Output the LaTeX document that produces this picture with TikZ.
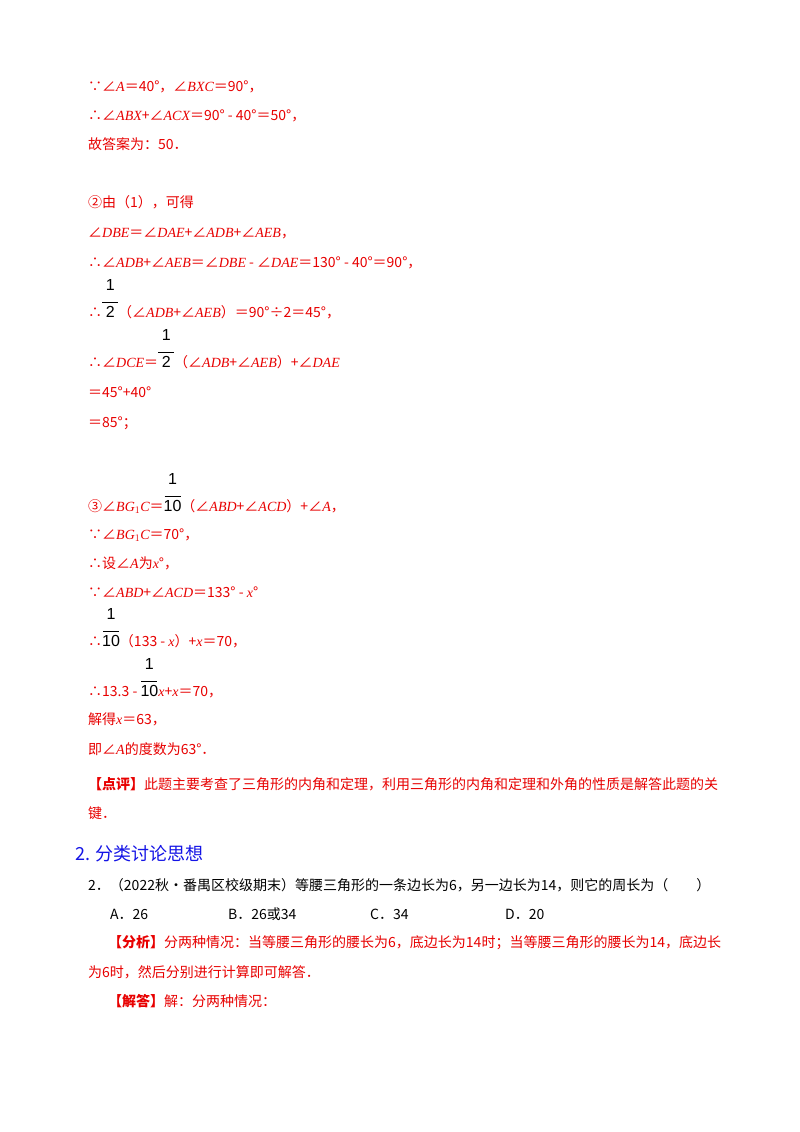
\documentclass[tikz,border=0pt]{standalone}
\usepackage{fontspec}
\setmainfont{Liberation Serif}
\setsansfont{Liberation Sans}
\newfontfamily\cjk{Noto Sans CJK SC}
\newcommand\iv[1]{{\rmfamily\itshape #1}}
\newcommand\ang{∠}
\newcommand\fr[2]{{\sffamily\color{black}\fontsize{16}{18}\selectfont\begin{tabular}[b]{@{}c@{}}#1\\[-5pt]\rule{1em}{0.7pt}\\[-4pt]#2\end{tabular}}}
\definecolor{myred}{RGB}{232,0,0}
\definecolor{myblue}{RGB}{20,20,230}
\tikzset{ln/.style={anchor=base west,inner sep=0pt,font=\cjk\fontsize{14}{17}\selectfont,text=myred},
 blk/.style={ln,text=black}}
\begin{document}
\begin{tikzpicture}[x=1pt,y=-1pt]
\useasboundingbox[fill=white] (0,0) rectangle (800,1132);
\node[ln] (l1) at (88,91) {∵\ang\iv{A}＝40°，\ang\iv{BXC}＝90°，};
\node[ln] (l2) at (88,120) {∴\ang\iv{ABX}+\ang\iv{ACX}＝90° - 40°＝50°，};
\node[ln] (l3) at (88,149) {故答案为：50．};
\node[ln] (l4) at (88,207) {②由（1），可得};
\node[ln] (l5) at (88,237) {\ang\iv{DBE}＝\ang\iv{DAE}+\ang\iv{ADB}+\ang\iv{AEB}，};
\node[ln] (l6) at (88,267) {∴\ang\iv{ADB}+\ang\iv{AEB}＝\ang\iv{DBE} - \ang\iv{DAE}＝130° - 40°＝90°，};
\node[ln] (l7) at (88,317) {∴\fr{1}{2}（\ang\iv{ADB}+\ang\iv{AEB}）＝90°÷2＝45°，};
\node[ln] (l8) at (88,367) {∴\ang\iv{DCE}＝\fr{1}{2}（\ang\iv{ADB}+\ang\iv{AEB}）+\ang\iv{DAE}};
\node[ln] (l9) at (88,397) {＝45°+40°};
\node[ln] (l10) at (88,427) {＝85°；};
\node[ln] (l11) at (88,511) {③\ang\iv{BG}$_1$\iv{C}＝\fr{1}{10}（\ang\iv{ABD}+\ang\iv{ACD}）+\ang\iv{A}，};
\node[ln] (l12) at (88,539) {∵\ang\iv{BG}$_1$\iv{C}＝70°，};
\node[ln] (l13) at (88,568) {∴设\ang\iv{A}为\iv{x}°，};
\node[ln] (l14) at (88,597) {∵\ang\iv{ABD}+\ang\iv{ACD}＝133° - \iv{x}°};
\node[ln] (l15) at (88,646) {∴\fr{1}{10}（133 - \iv{x}）+\iv{x}＝70，};
\node[ln] (l16) at (88,696) {∴13.3 - \fr{1}{10}\iv{x}+\iv{x}＝70，};
\node[ln] (l17) at (88,724) {解得\iv{x}＝63，};
\node[ln] (l18) at (88,754) {即\ang\iv{A}的度数为63°．};
\node[ln] (l19) at (88,789) {\textbf{【点评】}此题主要考查了三角形的内角和定理，利用三角形的内角和定理和外角的性质是解答此题的关};
\node[ln] (l20) at (88,818) {键．};
\node[ln,text=myblue,font=\cjk\fontsize{18}{20}\selectfont] (h) at (75,860) {2. 分类讨论思想};
\node[blk] (q) at (88,890) {2．（2022秋•番禺区校级期末）等腰三角形的一条边长为6，另一边长为14，则它的周长为（　　）};
\node[blk] (oa) at (110,919) {A．26};
\node[blk] (ob) at (228,919) {B．26或34};
\node[blk] (oc) at (370,919) {C．34};
\node[blk] (od) at (505,919) {D．20};
\node[ln] (a1) at (108,947) {\textbf{【分析】}分两种情况：当等腰三角形的腰长为6，底边长为14时；当等腰三角形的腰长为14，底边长};
\node[ln] (a2) at (88,977) {为6时，然后分别进行计算即可解答．};
\node[ln] (a3) at (108,1006) {\textbf{【解答】}解：分两种情况：};
\end{tikzpicture}
\end{document}
